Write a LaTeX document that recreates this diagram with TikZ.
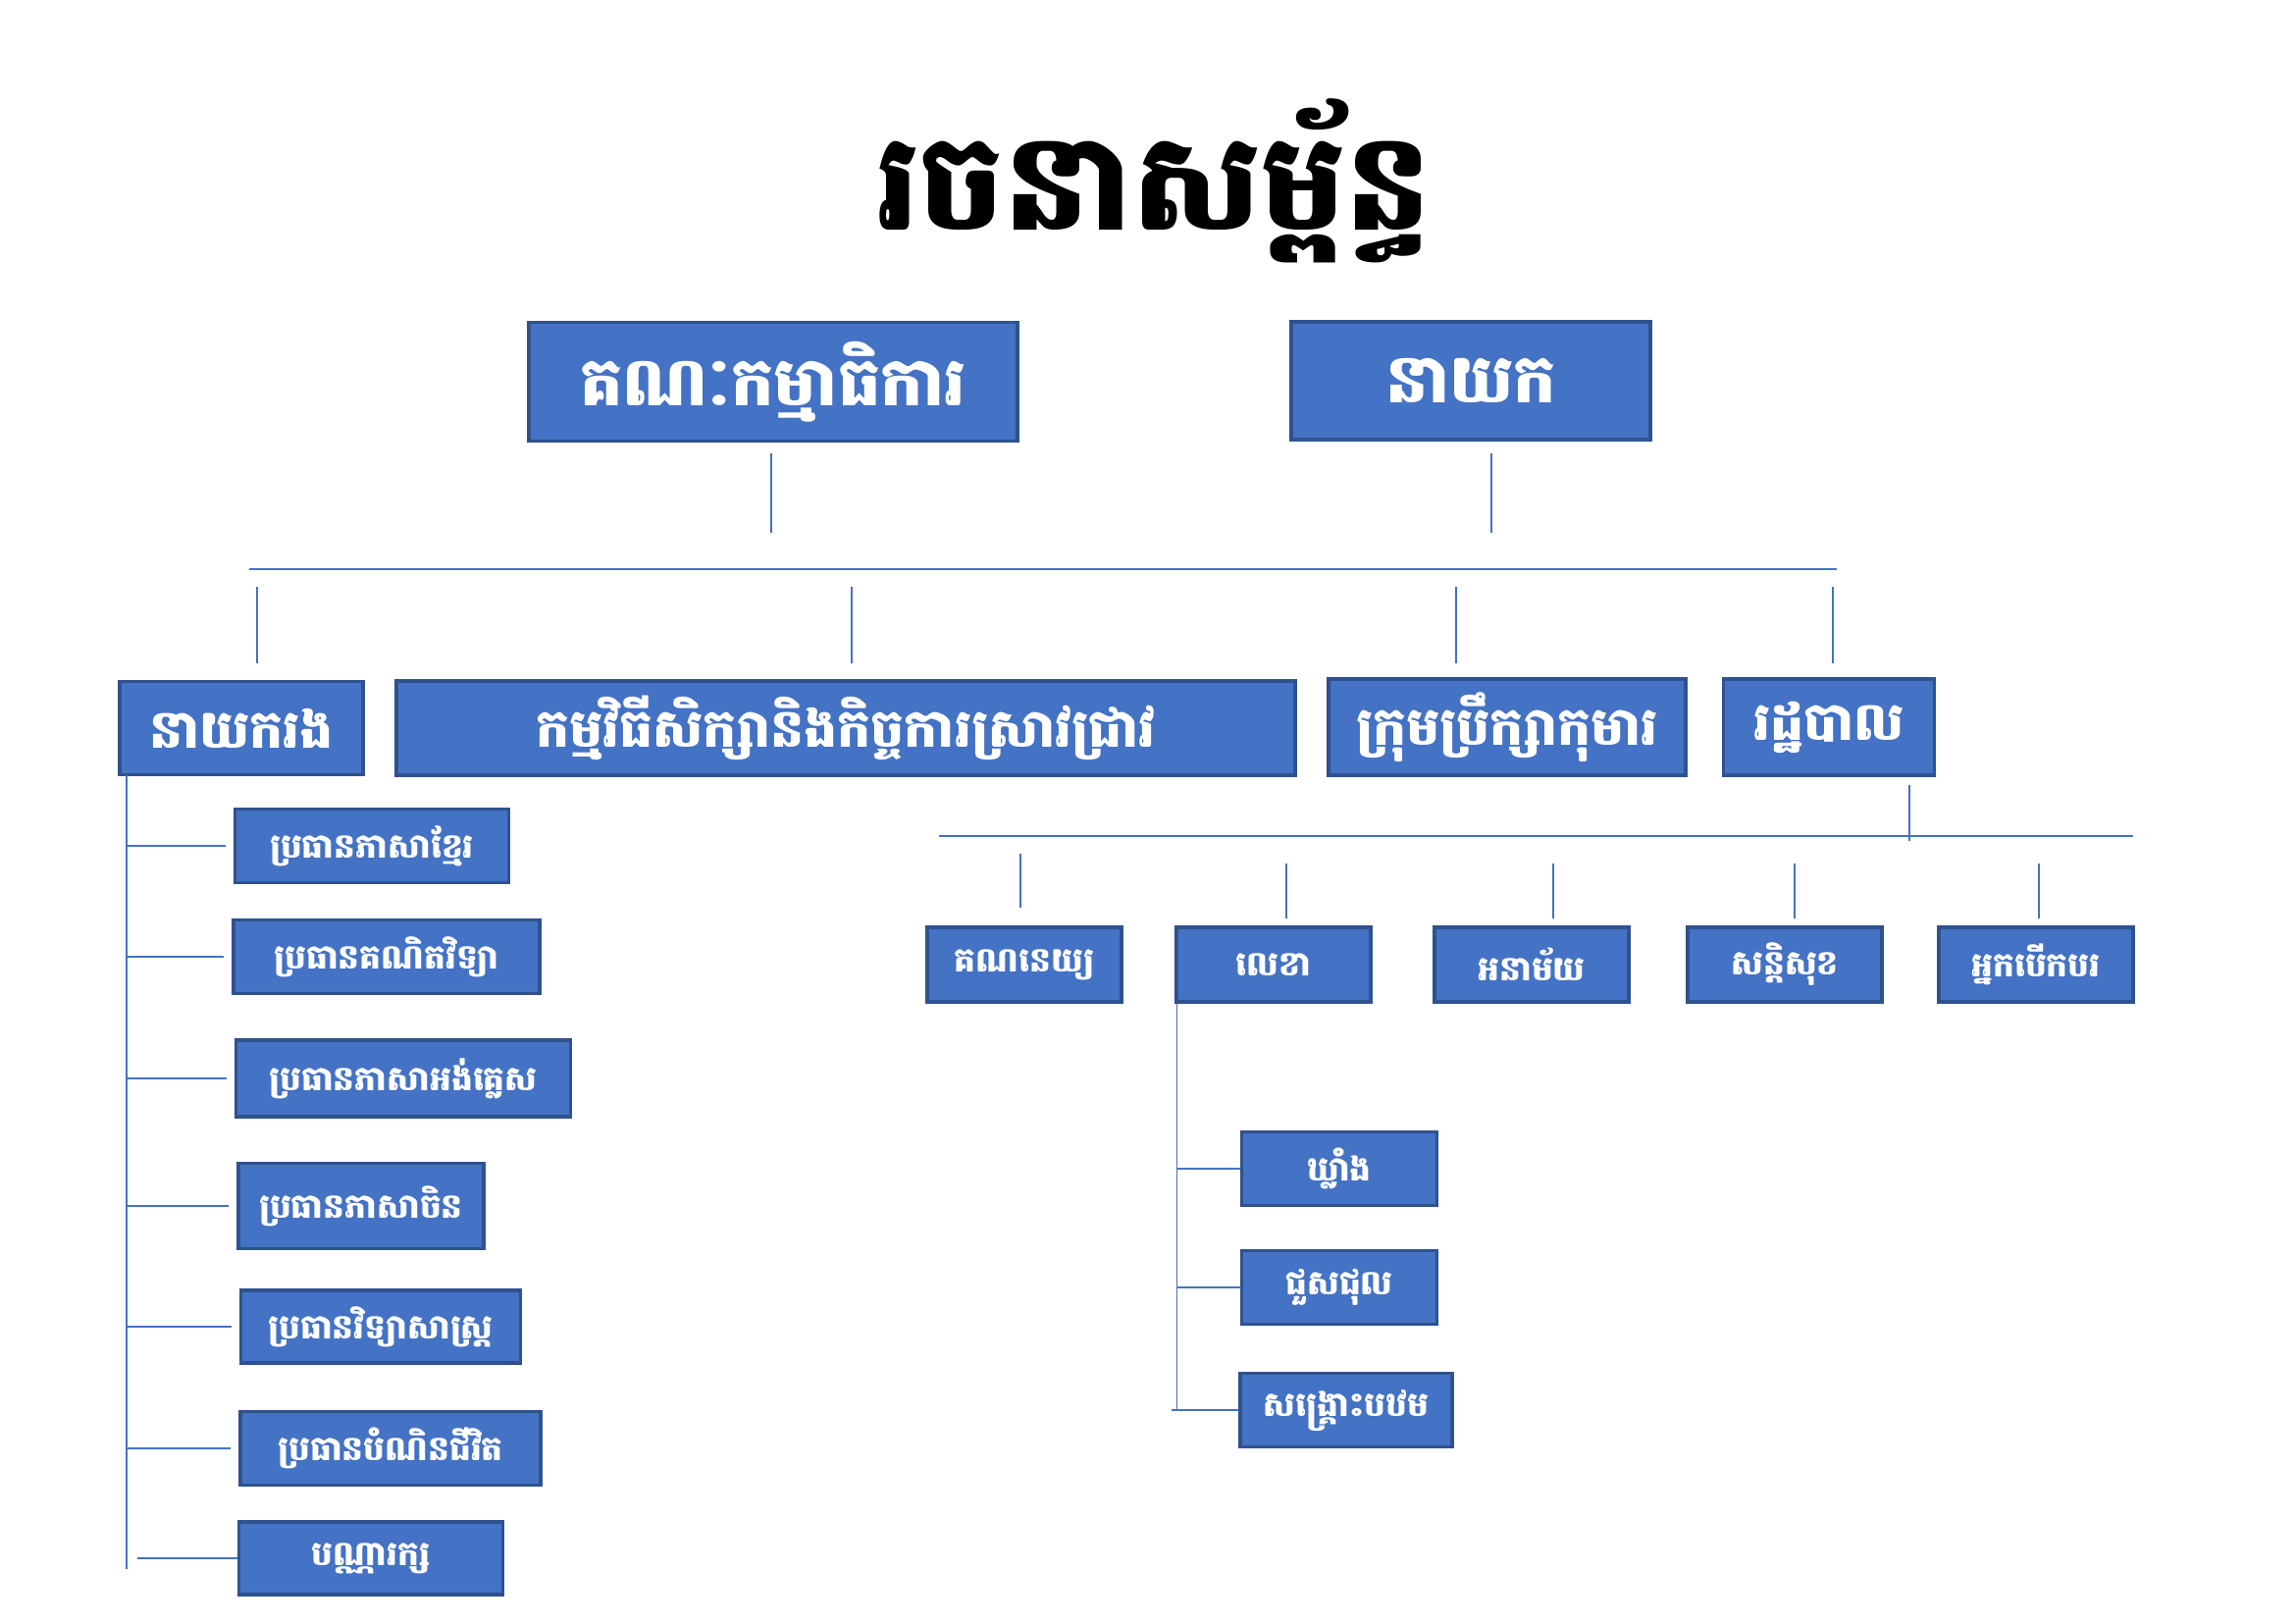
\documentclass[tikz,border=0pt]{standalone}
\usepackage{fontspec}
\newfontfamily\khmer[Script=Khmer]{Battambang}
\definecolor{boxfill}{HTML}{4472C4}
\definecolor{boxline}{HTML}{2F528F}
\definecolor{connc}{HTML}{4472C4}
\tikzset{
  box/.style={draw=boxline, fill=boxfill, line width=0.35mm, text=white, inner sep=0pt, align=center},
  sz/.style 2 args={minimum width=#1*0.1mm, minimum height=#2*0.1mm},
  ftitle/.style={font=\khmer\bfseries\fontsize{39}{46}\selectfont},
  ftop/.style={font=\khmer\bfseries\fontsize{19.5}{24}\selectfont},
  fmid/.style={font=\khmer\bfseries\fontsize{15.3}{19}\selectfont},
  fsmall/.style={font=\khmer\bfseries\fontsize{9.8}{12}\selectfont},
  conn/.style={draw=connc, line width=0.15mm}
}
\begin{document}
\begin{tikzpicture}[x=0.1mm,y=-0.1mm]
\useasboundingbox (0,0) rectangle (2339,1654);
% title
\node[ftitle, anchor=base, inner sep=0pt] (title) at (1176,234) {រចនាសម្ព័ន្ធ};
% top boxes
\node[box, ftop, sz={498}{121}] (B1) at (788,389) {គណៈកម្មាធិការ};
\node[box, ftop, sz={366}{120}] (B2) at (1499,388) {នាយក};
% second row
\node[box, fmid, sz={248}{95}] (C1) at (246,742) {នាយករង};
\node[box, fmid, sz={916}{96}] (C2) at (862,742) {កម្មវិធីសិក្សានិងកិច្ចការស្រាវជ្រាវ};
\node[box, fmid, sz={364}{98}] (C3) at (1536,741) {ក្រុមប្រឹក្សាកុមារ};
\node[box, fmid, sz={215}{98}] (C4) at (1864,741) {រដ្ឋបាល};
% left column
\node[box, fsmall, sz={279}{75}] (L1) at (379,862) {ប្រធានភាសាខ្មែរ};
\node[box, fsmall, sz={312}{75}] (L2) at (394,975) {ប្រធានគណិតវិទ្យា};
\node[box, fsmall, sz={341}{78}] (L3) at (411,1099) {ប្រធានភាសាអង់គ្លេស};
\node[box, fsmall, sz={250}{87}] (L4) at (368,1229) {ប្រធានភាសាចិន};
\node[box, fsmall, sz={285}{74}] (L5) at (388,1352) {ប្រធានវិទ្យាសាស្ត្រ};
\node[box, fsmall, sz={306}{75}] (L6) at (398,1476) {ប្រធានបំណិនជីវិត};
\node[box, fsmall, sz={269}{74}] (L7) at (378,1588) {បណ្ណារក្ស};
% right row
\node[box, fsmall, sz={198}{76}] (R1) at (1044,983) {គណនេយ្យ};
\node[box, fsmall, sz={198}{76}] (R2) at (1298,983) {លេខា};
\node[box, fsmall, sz={198}{76}] (R3) at (1561,983) {អនាម័យ};
\node[box, fsmall, sz={198}{76}] (R4) at (1819,983) {សន្តិសុខ};
\node[box, fsmall, sz={198}{76}] (R5) at (2075,983) {អ្នកបើកបរ};
% sub boxes
\node[box, fsmall, sz={199}{75}] (S1) at (1365,1191) {ឃ្លាំង};
\node[box, fsmall, sz={199}{75}] (S2) at (1365,1312) {ជួសជុល};
\node[box, fsmall, sz={216}{75}] (S3) at (1372,1437) {សង្គ្រោះបឋម};
% connectors: top tree
\coordinate (b1a) at (786,462); \coordinate (b1b) at (786,543);
\coordinate (b2a) at (1520,462); \coordinate (b2b) at (1520,543);
\coordinate (hl) at (254,580); \coordinate (hr) at (1872,580);
\draw[conn] (b1a) -- (b1b);
\draw[conn] (b2a) -- (b2b);
\draw[conn] (hl) -- (hr);
\foreach \x/\n in {262/1,868/2,1484/3,1868/4}{
  \coordinate (d\n a) at (\x,598); \coordinate (d\n b) at (\x,676);
  \draw[conn] (d\n a) -- (d\n b);
}
% left trunk
\coordinate (lt) at (129,790); \coordinate (lb) at (129,1599);
\draw[conn] (lt) -- (lb);
\foreach \n in {1,...,6}{
  \draw[conn] (lt |- L\n.west) -- ([xshift=-0.8mm]L\n.west);
}
\draw[conn] ([xshift=1.1mm]lt |- L7.west) -- (L7.west);
% right tree
\coordinate (c4a) at (1946,800); \coordinate (c4b) at (1946,857);
\draw[conn] (c4a) -- (c4b);
\coordinate (rl) at (957,852); \coordinate (rr) at (2174,852);
\draw[conn] (rl) -- (rr);
\draw[conn] (1040,870) -- (1040,925);
\foreach \x in {1311,1583,1829,2078}{
  \draw[conn] (\x,880) -- (\x,936);
}
% sub trunk under R2
\coordinate (st) at (R2.south west);
\draw[conn] ([xshift=0.2mm]st) -- ([xshift=0.2mm]st |- S3.west);
\draw[conn] ([xshift=0.2mm]st |- S1.west) -- (S1.west);
\draw[conn] ([xshift=0.2mm]st |- S2.west) -- (S2.west);
\draw[conn] ([xshift=-0.3mm]st |- S3.west) -- (S3.west);
\end{tikzpicture}
\end{document}
